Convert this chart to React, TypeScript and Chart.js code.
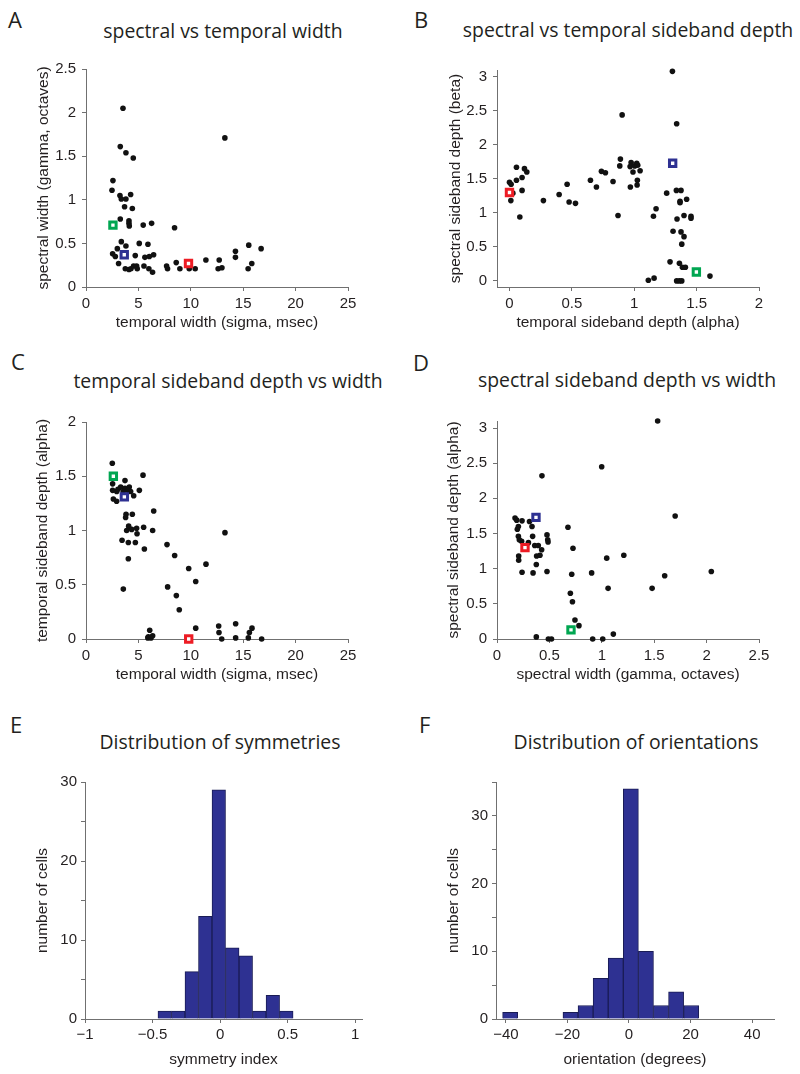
import React, { useEffect, useRef } from 'react';
import { Chart, registerables } from 'chart.js';
Chart.register(...registerables);

// ---------------- DATA ----------------
// Panel A: spectral width vs temporal width
const aTemporalWidth = [
  3.53, 13.25, 3.27, 3.81, 4.51, 2.57, 2.48, 3.24, 3.37, 3.81,
  4.26, 3.68, 4.42, 3.27, 4.10, 4.10, 4.13, 5.46, 6.26, 8.45,
  3.37, 5.08, 5.91, 2.99, 2.54, 2.80, 3.81, 4.70, 5.62, 6.04,
  6.45, 3.11, 3.75, 4.10, 4.29, 4.54, 4.83, 4.89, 5.53, 6.00,
  6.35, 7.69, 7.78, 8.61, 8.96, 9.85, 10.42, 11.44, 12.61, 12.71,
  12.97, 14.26, 14.26, 15.53, 15.47, 15.82, 16.71,
];
const aSpectralWidth = [
  2.05, 1.71, 1.61, 1.54, 1.48, 1.22, 1.11, 1.05, 1.01, 1.01,
  1.06, 0.92, 0.90, 0.78, 0.76, 0.73, 0.70, 0.71, 0.73, 0.68,
  0.52, 0.50, 0.49, 0.44, 0.38, 0.35, 0.47, 0.36, 0.34, 0.35,
  0.37, 0.27, 0.21, 0.20, 0.21, 0.24, 0.24, 0.21, 0.24, 0.21,
  0.17, 0.24, 0.21, 0.28, 0.21, 0.21, 0.21, 0.31, 0.21, 0.31,
  0.22, 0.41, 0.34, 0.48, 0.21, 0.27, 0.44,
];
// highlighted cells: red, blue, green
const aMarkX = [9.78, 3.65, 2.57];
const aMarkY = [0.27, 0.37, 0.71];

// Panel B: spectral vs temporal sideband depth
const bTemporalDepth = [
  1.306, 0.903, 1.340, 0.889, 0.975, 1.020, 0.884, 0.967, 1.004, 1.028,
  0.990, 1.047, 0.737, 0.769, 0.830, 0.649, 0.697, 0.969, 1.025, 1.023,
  0.462, 0.398, 0.272, 0.478, 0.529, 0.870, 0.056, 0.056, 0.000, 0.013,
  0.027, 0.011, 0.101, 0.120, 0.139, 0.101, 0.083, 1.260, 1.338, 1.375,
  1.367, 1.367, 1.420, 1.175, 1.154, 1.343, 1.399, 1.455, 1.455, 1.311,
  1.375, 1.399, 1.381, 1.287, 1.362, 1.386, 1.410, 1.113, 1.159, 1.340,
  1.362, 1.381, 1.607,
];
const bSpectralDepth = [
  3.08, 2.44, 2.31, 1.79, 1.74, 1.73, 1.69, 1.68, 1.69, 1.70,
  1.60, 1.62, 1.61, 1.59, 1.46, 1.48, 1.38, 1.38, 1.48, 1.41,
  1.42, 1.27, 1.18, 1.16, 1.14, 0.96, 1.67, 1.48, 1.45, 1.42,
  1.29, 1.18, 1.52, 1.65, 1.60, 1.33, 0.94, 1.29, 1.33, 1.33,
  1.17, 1.15, 1.20, 1.06, 0.95, 0.91, 0.96, 0.95, 0.92, 0.73,
  0.72, 0.65, 0.54, 0.28, 0.26, 0.20, 0.20, 0.01, 0.04, 0.00,
  0.00, 0.00, 0.07,
];
const bMarkX = [0.0, 1.308, 1.498];
const bMarkY = [1.30, 1.73, 0.13];

// Panel C: temporal sideband depth vs temporal width
const cTemporalWidth = [
  2.51, 5.44, 3.72, 2.54, 2.54, 2.93, 3.31, 3.72, 4.13, 4.26,
  5.09, 4.55, 2.61, 2.92, 6.46, 3.82, 4.42, 3.78, 4.07, 3.88,
  4.36, 4.83, 4.87, 5.50, 6.36, 13.26, 3.44, 4.04, 4.71, 5.57,
  7.73, 8.46, 4.04, 9.80, 11.45, 10.47, 3.56, 7.79, 8.62, 8.90,
  6.08, 5.95, 5.90, 6.20, 6.36, 10.47, 12.66, 12.69, 12.95, 14.28,
  14.28, 15.49, 15.59, 15.84, 16.76, 3.05, 3.55, 4.00,
];
const cTemporalDepth = [
  1.62, 1.51, 1.46, 1.43, 1.37, 1.36, 1.40, 1.39, 1.40, 1.36,
  1.37, 1.32, 1.29, 1.27, 1.18, 1.15, 1.15, 1.12, 1.04, 1.00,
  1.01, 1.02, 0.97, 1.03, 1.00, 0.98, 0.91, 0.89, 0.89, 0.83,
  0.87, 0.77, 0.74, 0.65, 0.69, 0.53, 0.46, 0.48, 0.40, 0.27,
  0.08, 0.02, 0.01, 0.01, 0.03, 0.10, 0.12, 0.06, 0.00, 0.14,
  0.01, 0.01, 0.06, 0.10, 0.00, 1.38, 1.36, 1.37,
];
const cMarkX = [9.80, 3.66, 2.61];
const cMarkY = [0.00, 1.31, 1.50];

// Panel D: spectral sideband depth vs spectral width
const dSpectralWidth = [
  1.533, 0.999, 0.429, 1.700, 0.677, 0.725, 1.047, 1.210, 2.045, 1.600,
  0.903, 0.713, 0.477, 0.344, 0.239, 1.480, 1.060, 0.700, 0.720, 0.172,
  0.188, 0.239, 0.204, 0.194, 0.310, 0.334, 0.204, 0.213, 0.235, 0.300,
  0.340, 0.360, 0.394, 0.426, 0.477, 0.484, 0.487, 0.378, 0.410, 0.207,
  0.207, 0.375, 0.744, 0.782, 0.375, 0.490, 0.520, 0.913, 1.009, 1.110,
];
const dSpectralDepth = [
  3.10, 2.45, 2.32, 1.75, 1.59, 1.29, 1.15, 1.19, 0.96, 0.90,
  0.94, 0.92, 0.96, 0.94, 0.95, 0.72, 0.72, 0.65, 0.53, 1.72,
  1.69, 1.68, 1.60, 1.56, 1.67, 1.60, 1.46, 1.41, 1.39, 1.37,
  1.46, 1.33, 1.33, 1.27, 1.48, 1.41, 1.38, 1.18, 1.19, 1.18,
  1.12, 1.06, 0.27, 0.19, 0.03, 0.00, 0.00, 0.00, 0.00, 0.07,
];
const dMarkX = [0.267, 0.372, 0.706];
const dMarkY = [1.30, 1.73, 0.13];

// Panel E: distribution of symmetries
const eBinCenters = [-0.41, -0.31, -0.21, -0.11, -0.01, 0.09, 0.19, 0.29, 0.39, 0.49];
const eCounts = [1, 1, 6, 13, 29, 9, 8, 1, 3, 1];

// Panel F: distribution of orientations
const fBinCenters = [-38.6, -19.0, -14.1, -9.2, -4.3, 0.6, 5.5, 10.4, 15.3, 20.2];
const fCounts = [1, 1, 2, 6, 9, 34, 10, 2, 4, 2];

// Ticks
const widthTicks = [0, 5, 10, 15, 20, 25];
const aYTicks = [0, 0.5, 1, 1.5, 2, 2.5];
const bXTicks = [0, 0.5, 1, 1.5, 2];
const depthTicks3 = [0, 0.5, 1, 1.5, 2, 2.5, 3];
const cYTicks = [0, 0.5, 1, 1.5, 2];
const dXTicks = [0, 0.5, 1, 1.5, 2, 2.5];
const eXTicks = [-1, -0.5, 0, 0.5, 1];
const eYTicks = [0, 5, 10, 15, 20, 25, 30];
const fXTicks = [-40, -20, 0, 20, 40];
const fYTicks = [0, 5, 10, 15, 20, 25, 30, 35];
const countLabels = [0, 10, 20, 30];

const markerColors = ['#ed1c24', '#2e3192', '#00a651'];

// ---------------- STYLE ----------------
const FONT = '"Liberation Sans", Arial, Helvetica, sans-serif';
const TITLE_FONT = '"Open Sans", "Noto Sans", sans-serif';
const TEXT = '#231f20';
const AXIS = '#707070';
const BAR = '#2e3192';

function fmt(v: number): string {
  return v < 0 ? '\u2212' + String(-v) : String(v);
}

interface AxisOpts {
  min: number;
  max: number;
  ticks: number[];
  labeled?: number[];
  title: string;
  size: number;
  titlePad: number;
  tickPad: number;
  isX: boolean;
}

function axis(o: AxisOpts): any {
  return {
    type: 'linear',
    position: o.isX ? 'bottom' : 'left',
    min: o.min,
    max: o.max,
    offset: false,
    afterBuildTicks: (s: any) => {
      s.ticks = o.ticks.map((v) => ({ value: v }));
    },
    afterFit: (s: any) => {
      if (o.isX) s.height = o.size;
      else s.width = o.size;
      s.paddingLeft = 0;
      s.paddingRight = 0;
      s.paddingTop = 0;
      s.paddingBottom = 0;
    },
    ticks: {
      padding: o.tickPad,
      color: TEXT,
      font: { family: FONT, size: 15 },
      autoSkip: false,
      maxRotation: 0,
      minRotation: 0,
      includeBounds: false,
      callback: (v: number) =>
        o.labeled ? (o.labeled.includes(v) ? fmt(v) : '') : fmt(v),
    },
    grid: {
      display: true,
      drawOnChartArea: false,
      drawTicks: true,
      tickLength: 4,
      color: AXIS,
      lineWidth: 1,
      offset: false,
    },
    border: { display: true, color: AXIS, width: 1 },
    title: {
      display: true,
      text: o.title,
      color: TEXT,
      font: { family: FONT, size: 15.5 },
      padding: o.isX ? { top: 0, bottom: o.titlePad } : { top: o.titlePad, bottom: 0 },
    },
  };
}

function commonOptions(x: any, y: any): any {
  return {
    responsive: false,
    maintainAspectRatio: false,
    animation: false,
    events: [],
    layout: { padding: { left: 0, top: 14, right: 20, bottom: 0 } },
    plugins: { legend: { display: false }, tooltip: { enabled: false }, title: { display: false } },
    scales: { x, y },
  };
}

function scatterConfig(xs: number[], ys: number[], mx: number[], my: number[], x: any, y: any): any {
  const markers = markerColors.map((c, i) => ({
    data: [{ x: mx[i], y: my[i] }],
    pointStyle: 'rect',
    pointRadius: 4.5,
    pointBorderWidth: 3,
    pointBorderColor: c,
    pointBackgroundColor: '#ffffff',
    showLine: false,
    clip: false,
    order: 0,
  }));
  return {
    type: 'scatter',
    data: {
      datasets: [
        ...markers,
        {
          data: xs.map((v, i) => ({ x: v, y: ys[i] })),
          pointStyle: 'circle',
          pointRadius: 2.8,
          pointBorderWidth: 0,
          pointBackgroundColor: '#111111',
          showLine: false,
          clip: false,
          order: 1,
        },
      ],
    },
    options: commonOptions(x, y),
  };
}

function barConfig(centers: number[], counts: number[], x: any, y: any): any {
  return {
    type: 'bar',
    data: {
      datasets: [
        {
          data: centers.map((c, i) => ({ x: c, y: counts[i] })),
          backgroundColor: BAR,
          borderColor: '#1a1c55',
          borderWidth: 1,
          barPercentage: 1,
          categoryPercentage: 1,
          grouped: false,
        },
      ],
    },
    options: commonOptions(x, y),
  };
}

// ---------------- COMPONENTS ----------------
function ChartPanel(props: { left: number; top: number; width: number; height: number; config: () => any }) {
  const ref = useRef<HTMLCanvasElement | null>(null);
  useEffect(() => {
    if (!ref.current) return;
    const chart = new Chart(ref.current, props.config());
    return () => chart.destroy();
  }, []);
  return (
    <canvas
      ref={ref}
      width={props.width}
      height={props.height}
      style={{ position: 'absolute', left: props.left, top: props.top, width: props.width, height: props.height }}
    />
  );
}

function Label(props: { text: string; x: number; baseline: number; size: number; center?: boolean }) {
  const { text, x, baseline, size, center } = props;
  return (
    <div
      style={{
        position: 'absolute',
        left: center ? x - 300 : x,
        width: center ? 600 : undefined,
        textAlign: center ? 'center' : 'left',
        top: baseline - 0.888 * size,
        fontSize: size,
        lineHeight: size + 'px',
        fontFamily: TITLE_FONT,
        color: TEXT,
        whiteSpace: 'nowrap',
      }}
    >
      {text}
    </div>
  );
}

export default function App() {
  return (
    <div style={{ position: 'absolute', left: 0, top: 0, width: 800, height: 1074, background: '#ffffff', overflow: 'hidden' }}>
      <Label text="A" x={8} baseline={28} size={22} />
      <Label text="B" x={414} baseline={28} size={22} />
      <Label text="C" x={11} baseline={370} size={22} />
      <Label text="D" x={413} baseline={371} size={22} />
      <Label text="E" x={10} baseline={733} size={22} />
      <Label text="F" x={419} baseline={733} size={22} />

      <Label text="spectral vs temporal width" x={223} baseline={38} size={19.4} center />
      <Label text="spectral vs temporal sideband depth" x={628} baseline={37.5} size={19.4} center />
      <Label text="temporal sideband depth vs width" x={228} baseline={388} size={19.4} center />
      <Label text="spectral sideband depth vs width" x={627} baseline={387} size={19.4} center />
      <Label text="Distribution of symmetries" x={220} baseline={749} size={19.4} center />
      <Label text="Distribution of orientations" x={636} baseline={749} size={19.4} center />

      <ChartPanel
        left={0}
        top={55}
        width={368}
        height={282}
        config={() =>
          scatterConfig(
            aTemporalWidth, aSpectralWidth, aMarkX, aMarkY,
            axis({ min: 0, max: 25, ticks: widthTicks, title: 'temporal width (sigma, msec)', size: 50, titlePad: 5, tickPad: 4, isX: true }),
            axis({ min: 0, max: 2.5, ticks: aYTicks, title: 'spectral width (gamma, octaves)', size: 86, titlePad: 34, tickPad: 6, isX: false })
          )
        }
      />
      <ChartPanel
        left={400}
        top={56}
        width={379}
        height={281}
        config={() =>
          scatterConfig(
            bTemporalDepth, bSpectralDepth, bMarkX, bMarkY,
            axis({ min: -0.1, max: 2, ticks: bXTicks, title: 'temporal sideband depth (alpha)', size: 50, titlePad: 5, tickPad: 4, isX: true }),
            axis({ min: -0.09, max: 3.1, ticks: depthTicks3, title: 'spectral sideband depth (beta)', size: 97, titlePad: 46, tickPad: 6, isX: false })
          )
        }
      />
      <ChartPanel
        left={0}
        top={408}
        width={368}
        height={281}
        config={() =>
          scatterConfig(
            cTemporalWidth, cTemporalDepth, cMarkX, cMarkY,
            axis({ min: 0, max: 25, ticks: widthTicks, title: 'temporal width (sigma, msec)', size: 50, titlePad: 5, tickPad: 4, isX: true }),
            axis({ min: 0, max: 2, ticks: cYTicks, title: 'temporal sideband depth (alpha)', size: 86, titlePad: 33, tickPad: 6, isX: false })
          )
        }
      />
      <ChartPanel
        left={400}
        top={407}
        width={379}
        height={282}
        config={() =>
          scatterConfig(
            dSpectralWidth, dSpectralDepth, dMarkX, dMarkY,
            axis({ min: 0, max: 2.5, ticks: dXTicks, title: 'spectral width (gamma, octaves)', size: 50, titlePad: 5, tickPad: 4, isX: true }),
            axis({ min: 0, max: 3.1, ticks: depthTicks3, title: 'spectral sideband depth (alpha)', size: 97, titlePad: 44, tickPad: 6, isX: false })
          )
        }
      />
      <ChartPanel
        left={0}
        top={768}
        width={382}
        height={306}
        config={() =>
          barConfig(
            eBinCenters, eCounts,
            axis({ min: -1, max: 1.05, ticks: eXTicks, title: 'symmetry index', size: 55, titlePad: 5, tickPad: 3, isX: true }),
            axis({ min: 0, max: 30, ticks: eYTicks, labeled: countLabels, title: 'number of cells', size: 85, titlePad: 33, tickPad: 4, isX: false })
          )
        }
      />
      <ChartPanel
        left={400}
        top={768}
        width={394}
        height={306}
        config={() =>
          barConfig(
            fBinCenters, fCounts,
            axis({ min: -43.2, max: 47.1, ticks: fXTicks, title: 'orientation (degrees)', size: 55, titlePad: 5, tickPad: 3, isX: true }),
            axis({ min: 0, max: 35, ticks: fYTicks, labeled: countLabels, title: 'number of cells', size: 96, titlePad: 44, tickPad: 4, isX: false })
          )
        }
      />
    </div>
  );
}
